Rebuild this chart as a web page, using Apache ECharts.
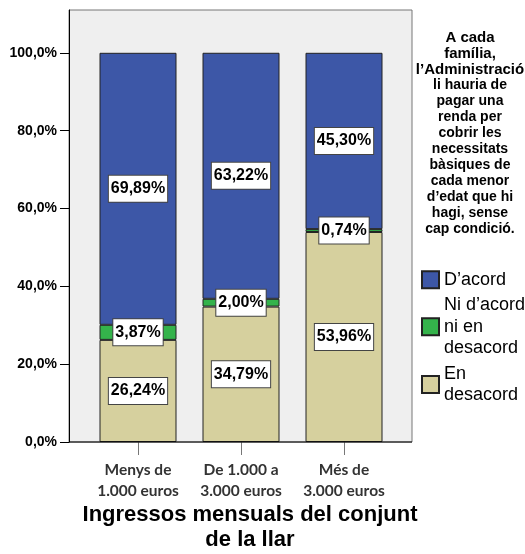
<!doctype html>
<html>
<head>
<meta charset="utf-8">
<title>Ingressos mensuals del conjunt de la llar</title>
<script src="https://cdn.jsdelivr.net/npm/echarts@6/dist/echarts.min.js"></script>
<style>
html, body { margin: 0; padding: 0; background: #fff; }
#chart { width: 525px; height: 554px; }
</style>
</head>
<body>
<div id="chart"></div>
<script>
// categories (x axis)
var categories = ['Menys de\n1.000 euros', 'De 1.000 a\n3.000 euros', 'Més de\n3.000 euros'];
// percentages per category, bottom to top
var enDesacord = [26.24, 34.79, 53.96];
var niAcord = [3.87, 2.00, 0.74];
var dAcord = [69.89, 63.22, 45.30];
var yTicks = [0, 20, 40, 60, 80, 100];
// legend title
var titleBold = ['A cada', 'família,', 'l’Administració'];
var titleRest = ['li hauria de', 'pagar una', 'renda per', 'cobrir les', 'necessitats',
	'bàsiques de', 'cada menor', 'd’edat que hi', 'hagi, sense', 'cap condició.'];
var xName = ['Ingressos mensuals del conjunt', 'de la llar'];

var names = ['En\ndesacord', 'Ni d’acord\nni en\ndesacord', 'D’acord'];
var colors = ['#d6d09e', '#34b34b', '#3d57a7'];

function pct(p) {
	return p.value.toFixed(2).replace('.', ',') + '%';
}

var labelStyle = {
	show: true,
	position: 'inside',
	formatter: pct,
	color: '#000',
	fontWeight: 'bold',
	fontSize: 16,
	lineHeight: 19,
	backgroundColor: '#fff',
	borderColor: '#444',
	borderWidth: 1,
	padding: [4, 2, 3, 2]
};

var series = [enDesacord, niAcord, dAcord].map(function (arr, i) {
	return {
		name: names[i],
		type: 'bar',
		stack: 'total',
		barWidth: 77,
		data: arr,
		itemStyle: { color: colors[i], borderColor: '#222', borderWidth: 1 },
		label: labelStyle,
		emphasis: { disabled: true }
	};
});

// plot frame: grey panel wider than the category band
var frame = { left: 69, top: 10, right: 412, bottom: 442 };

var chart = echarts.init(document.getElementById('chart'));
var option = {
	animation: false,
	textStyle: { fontFamily: '"Liberation Sans", Arial, sans-serif' },
	grid: {
		left: 86.5, right: 129.5, top: 10, bottom: 112,
		outerBoundsMode: 'none'
	},
	legend: {
		orient: 'vertical',
		left: 416,
		top: 264,
		icon: 'rect',
		itemWidth: 17,
		itemHeight: 17,
		itemGap: 4,
		selectedMode: false,
		data: [names[2], names[1], names[0]],
		textStyle: { fontSize: 18, color: '#000', lineHeight: 21.5 }
	},
	xAxis: {
		type: 'category',
		data: categories,
		axisLine: { show: false },
		axisTick: { show: true, alignWithLabel: true, interval: 0, length: 13, lineStyle: { color: '#777' } },
		axisLabel: {
			interval: 0,
			margin: 17,
			fontFamily: 'Lato, "Open Sans", sans-serif',
			fontWeight: 'bold',
			fontSize: 15.5,
			lineHeight: 21,
			color: '#333'
		}
	},
	yAxis: {
		type: 'value',
		min: 0,
		max: 111,
		offset: 17.5,
		splitLine: { show: false },
		axisLine: { show: true, lineStyle: { color: '#000', width: 1 } },
		axisTick: { show: true, customValues: yTicks, length: 9, lineStyle: { color: '#000' } },
		axisLabel: {
			customValues: yTicks,
			formatter: function (v) { return v.toFixed(1).replace('.', ',') + '%'; },
			margin: 12,
			fontSize: 14,
			fontWeight: 'bold',
			color: '#000'
		}
	},
	graphic: [
		{
			type: 'rect', z: -10, silent: true,
			shape: { x: frame.left, y: frame.top, width: frame.right - frame.left, height: frame.bottom - frame.top },
			style: { fill: '#efefef', stroke: '#777', lineWidth: 1 }
		},
		{
			type: 'line', z: 10, silent: true,
			shape: { x1: frame.left, y1: frame.bottom, x2: frame.right, y2: frame.bottom },
			style: { stroke: '#000', lineWidth: 1 }
		},
		{
			type: 'text', x: 470, y: 29.5, silent: true,
			style: {
				text: titleBold.join('\n'), fill: '#000', align: 'center', verticalAlign: 'top',
				font: 'bold 15px "Liberation Sans", Arial, sans-serif', lineHeight: 16
			}
		},
		{
			type: 'text', x: 470, y: 77.5, silent: true,
			style: {
				text: titleRest.join('\n'), fill: '#000', align: 'center', verticalAlign: 'top',
				font: 'bold 14px "Liberation Sans", Arial, sans-serif', lineHeight: 16
			}
		},
		{
			type: 'text', x: 250, y: 527.5, silent: true,
			style: {
				text: xName.join('\n'), fill: '#000', align: 'center', verticalAlign: 'middle',
				font: 'bold 22px "Liberation Sans", Arial, sans-serif', lineHeight: 25
			}
		}
	],
	series: series
};
chart.setOption(option);
</script>
</body>
</html>
